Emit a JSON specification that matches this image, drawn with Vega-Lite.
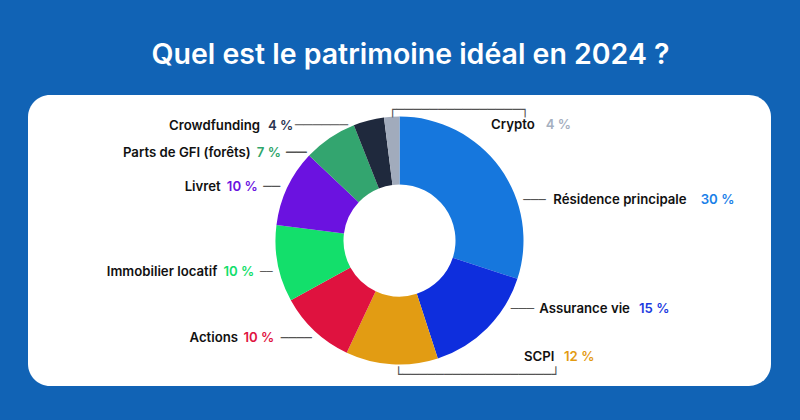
{
  "$schema": "https://vega.github.io/schema/vega-lite/v6.json",
  "width": 743,
  "height": 291,
  "autosize": {"type": "none"},
  "padding": {"left": 28, "top": 95, "right": 29, "bottom": 34},
  "background": "#1163b5",
  "view": {"fill": "#ffffff", "cornerRadius": 22, "stroke": null},
  "title": {"text": "Quel est le patrimoine idéal en 2024 ?", "color": "#ffffff", "font": "Inter", "fontSize": 28.5, "fontWeight": 600, "anchor": "middle", "frame": "group", "baseline": "alphabetic", "offset": -2, "dx": 11},
  "config": {"text": {"font": "Inter", "fontSize": 13.2, "fontWeight": 600}},
  "data": {"values": [
    {"name": "Résidence principale", "value": 30, "pct": "30 %", "rank": 1},
    {"name": "Assurance vie", "value": 15, "pct": "15 %", "rank": 2},
    {"name": "SCPI", "value": 12, "pct": "12 %", "rank": 3},
    {"name": "Actions", "value": 10, "pct": "10 %", "rank": 4},
    {"name": "Immobilier locatif", "value": 10, "pct": "10 %", "rank": 5},
    {"name": "Livret", "value": 10, "pct": "10 %", "rank": 6},
    {"name": "Parts de GFI (forêts)", "value": 7, "pct": "7 %", "rank": 7},
    {"name": "Crowdfunding", "value": 4, "pct": "4 %", "rank": 8},
    {"name": "Crypto", "value": 2, "pct": "4 %", "rank": 9}
  ]},
  "encoding": {
    "theta": {"field": "value", "type": "quantitative", "stack": true},
    "order": {"field": "rank", "type": "quantitative", "sort": "ascending"}
  },
  "layer": [
    {"mark": {"type": "arc", "innerRadius": 56, "outerRadius": 124},
     "encoding": {"color": {"field": "name", "type": "nominal", "legend": null,
       "scale": {"domain": ["Résidence principale", "Assurance vie", "SCPI", "Actions", "Immobilier locatif", "Livret", "Parts de GFI (forêts)", "Crowdfunding", "Crypto"],
                 "range": ["#1677DD", "#0E2EDD", "#E29C13", "#DF123F", "#13DF6B", "#6B12E0", "#33A56F", "#1F293D", "#A1ABBC"]}}}},

    {"mark": {"type": "text", "radius": 124, "font": "DejaVu Sans Mono", "fontSize": 14.67, "fontWeight": 400, "align": "right", "baseline": "middle", "dx": -20.7, "dy": 5.6, "color": "#555555"},
     "encoding": {"text": {"condition": {"test": "datum.name === 'Crowdfunding'", "value": "──────"}, "value": ""}}},
    {"mark": {"type": "text", "radius": 124, "align": "right", "baseline": "middle", "dx": -108.7, "dy": 5.6, "color": "#111111"},
     "encoding": {"text": {"condition": {"test": "datum.name === 'Crowdfunding'", "field": "name"}, "value": ""}}},
    {"mark": {"type": "text", "radius": 124, "align": "right", "baseline": "middle", "dx": -75.4, "dy": 5.6, "color": "#2A3552"},
     "encoding": {"text": {"condition": {"test": "datum.name === 'Crowdfunding'", "field": "pct"}, "value": ""}}},

    {"mark": {"type": "text", "radius": 124, "font": "DejaVu Sans Mono", "fontSize": 17.2, "fontWeight": 400, "align": "right", "baseline": "middle", "dx": -23.1, "dy": 14.7, "color": "#555555"},
     "encoding": {"text": {"condition": {"test": "datum.name === 'Parts de GFI (forêts)'", "value": "──"}, "value": ""}}},
    {"mark": {"type": "text", "radius": 124, "align": "right", "baseline": "middle", "dx": -79.1, "dy": 14.7, "color": "#111111"},
     "encoding": {"text": {"condition": {"test": "datum.name === 'Parts de GFI (forêts)'", "field": "name"}, "value": ""}}},
    {"mark": {"type": "text", "radius": 124, "align": "right", "baseline": "middle", "dx": -48.8, "dy": 14.7, "color": "#2FA56A"},
     "encoding": {"text": {"condition": {"test": "datum.name === 'Parts de GFI (forêts)'", "field": "pct"}, "value": ""}}},

    {"mark": {"type": "text", "radius": 124, "font": "DejaVu Sans Mono", "fontSize": 13.87, "fontWeight": 400, "align": "right", "baseline": "middle", "dx": -7.3, "dy": -0.4, "color": "#555555"},
     "encoding": {"text": {"condition": {"test": "datum.name === 'Livret'", "value": "──"}, "value": ""}}},
    {"mark": {"type": "text", "radius": 124, "align": "right", "baseline": "middle", "dx": -66.6, "dy": -0.4, "color": "#111111"},
     "encoding": {"text": {"condition": {"test": "datum.name === 'Livret'", "field": "name"}, "value": ""}}},
    {"mark": {"type": "text", "radius": 124, "align": "right", "baseline": "middle", "dx": -29.6, "dy": -0.4, "color": "#6A12E0"},
     "encoding": {"text": {"condition": {"test": "datum.name === 'Livret'", "field": "pct"}, "value": ""}}},

    {"mark": {"type": "text", "radius": 124, "font": "DejaVu Sans Mono", "fontSize": 10.55, "fontWeight": 400, "align": "right", "baseline": "middle", "dx": -5, "dy": 8.6, "color": "#555555"},
     "encoding": {"text": {"condition": {"test": "datum.name === 'Immobilier locatif'", "value": "──"}, "value": ""}}},
    {"mark": {"type": "text", "radius": 124, "align": "right", "baseline": "middle", "dx": -60.4, "dy": 8.6, "color": "#111111"},
     "encoding": {"text": {"condition": {"test": "datum.name === 'Immobilier locatif'", "field": "name"}, "value": ""}}},
    {"mark": {"type": "text", "radius": 124, "align": "right", "baseline": "middle", "dx": -23.4, "dy": 8.6, "color": "#12DE6A"},
     "encoding": {"text": {"condition": {"test": "datum.name === 'Immobilier locatif'", "field": "pct"}, "value": ""}}},

    {"mark": {"type": "text", "radius": 124, "font": "DejaVu Sans Mono", "fontSize": 12.87, "fontWeight": 400, "align": "right", "baseline": "middle", "dx": -2.9, "dy": 7.4, "color": "#555555"},
     "encoding": {"text": {"condition": {"test": "datum.name === 'Actions'", "value": "────"}, "value": ""}}},
    {"mark": {"type": "text", "radius": 124, "align": "right", "baseline": "middle", "dx": -76.6, "dy": 7.4, "color": "#111111"},
     "encoding": {"text": {"condition": {"test": "datum.name === 'Actions'", "field": "name"}, "value": ""}}},
    {"mark": {"type": "text", "radius": 124, "align": "right", "baseline": "middle", "dx": -40.3, "dy": 7.4, "color": "#E0143F"},
     "encoding": {"text": {"condition": {"test": "datum.name === 'Actions'", "field": "pct"}, "value": ""}}},

    {"mark": {"type": "text", "radius": 124, "font": "DejaVu Sans Mono", "fontSize": 12.4, "fontWeight": 400, "align": "left", "baseline": "middle", "dx": 23.5, "dy": 32.4, "color": "#555555"},
     "encoding": {"text": {"condition": {"test": "datum.name === 'Résidence principale'", "value": "───"}, "value": ""}}},
    {"mark": {"type": "text", "radius": 124, "align": "left", "baseline": "middle", "dx": 53.5, "dy": 32.4, "color": "#111111"},
     "encoding": {"text": {"condition": {"test": "datum.name === 'Résidence principale'", "field": "name"}, "value": ""}}},
    {"mark": {"type": "text", "radius": 124, "align": "left", "baseline": "middle", "dx": 200.9, "dy": 32.4, "color": "#1A7FE8"},
     "encoding": {"text": {"condition": {"test": "datum.name === 'Résidence principale'", "field": "pct"}, "value": ""}}},

    {"mark": {"type": "text", "radius": 124, "font": "DejaVu Sans Mono", "fontSize": 12.9, "fontWeight": 400, "align": "left", "baseline": "middle", "dx": 23.5, "dy": -18.9, "color": "#555555"},
     "encoding": {"text": {"condition": {"test": "datum.name === 'Assurance vie'", "value": "───"}, "value": ""}}},
    {"mark": {"type": "text", "radius": 124, "align": "left", "baseline": "middle", "dx": 52.1, "dy": -18.9, "color": "#111111"},
     "encoding": {"text": {"condition": {"test": "datum.name === 'Assurance vie'", "field": "name"}, "value": ""}}},
    {"mark": {"type": "text", "radius": 124, "align": "left", "baseline": "middle", "dx": 151.8, "dy": -18.9, "color": "#1A3AE0"},
     "encoding": {"text": {"condition": {"test": "datum.name === 'Assurance vie'", "field": "pct"}, "value": ""}}},

    {"mark": {"type": "text", "radius": 124, "font": "DejaVu Sans Mono", "fontSize": 13.76, "fontWeight": 400, "align": "left", "baseline": "middle", "dx": 2.5, "dy": 11, "color": "#555555"},
     "encoding": {"text": {"condition": {"test": "datum.name === 'SCPI'", "value": "└──────────────────┘"}, "value": ""}}},
    {"mark": {"type": "text", "radius": 124, "align": "left", "baseline": "middle", "dx": 132.3, "dy": -7.6, "color": "#111111"},
     "encoding": {"text": {"condition": {"test": "datum.name === 'SCPI'", "field": "name"}, "value": ""}}},
    {"mark": {"type": "text", "radius": 124, "align": "left", "baseline": "middle", "dx": 172.3, "dy": -7.6, "color": "#E39B12"},
     "encoding": {"text": {"condition": {"test": "datum.name === 'SCPI'", "field": "pct"}, "value": ""}}},

    {"mark": {"type": "text", "radius": 124, "font": "DejaVu Sans Mono", "fontSize": 13.76, "fontWeight": 400, "align": "left", "baseline": "middle", "dx": -3.5, "dy": -6.5, "color": "#555555"},
     "encoding": {"text": {"condition": {"test": "datum.name === 'Crypto'", "value": "┌───────────────┐"}, "value": ""}}},
    {"mark": {"type": "text", "radius": 124, "align": "left", "baseline": "middle", "dx": 99.3, "dy": 8.2, "color": "#111111"},
     "encoding": {"text": {"condition": {"test": "datum.name === 'Crypto'", "field": "name"}, "value": ""}}},
    {"mark": {"type": "text", "radius": 124, "align": "left", "baseline": "middle", "dx": 154, "dy": 8.2, "color": "#A5AFC0"},
     "encoding": {"text": {"condition": {"test": "datum.name === 'Crypto'", "field": "pct"}, "value": ""}}}
  ]
}
